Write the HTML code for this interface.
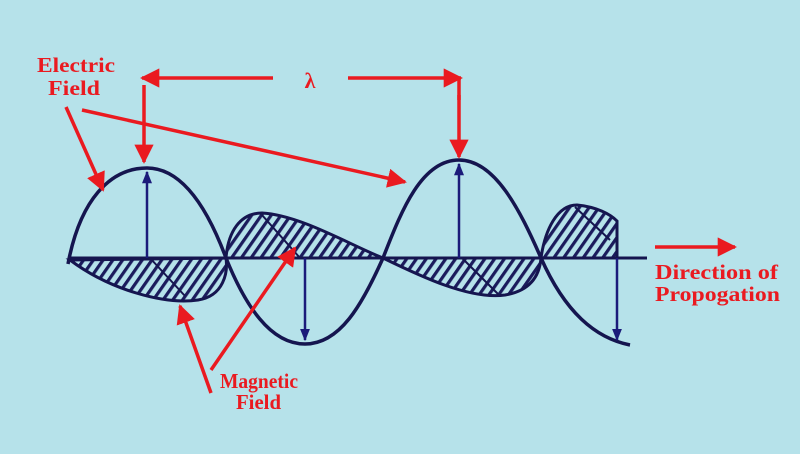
<!DOCTYPE html>
<html><head><meta charset="utf-8"><style>
html,body{margin:0;padding:0;background:#b6e2ea;}
svg{display:block}
</style></head><body>
<svg width="800" height="454" viewBox="0 0 800 454" xmlns="http://www.w3.org/2000/svg">
<defs>
<pattern id="h" width="8" height="8" patternUnits="userSpaceOnUse" patternTransform="rotate(35)">
<rect x="0" y="0" width="3.2" height="8" fill="#1b1b5c"/>
</pattern>
<marker id="ar" viewBox="0 0 10 10" refX="9" refY="5" markerWidth="5.5" markerHeight="5.5" orient="auto" markerUnits="strokeWidth"><path d="M0,0 L10,5 L0,10 z" fill="#ea1a20"/></marker>
<marker id="ab" viewBox="0 0 10 10" refX="9" refY="5" markerWidth="5" markerHeight="6" orient="auto" markerUnits="strokeWidth"><path d="M0,1 L10,5 L0,9 z" fill="#1b1b7a"/></marker>
</defs>
<rect width="800" height="454" fill="#b6e2ea"/>
<g stroke="#15154f" stroke-width="3" fill="url(#h)">
<path d="M70,260 C110,290 165,305 198,300 C224,296 228,272 226,258 Z"/>
<path d="M226,258 C228,232 240,213 262,213 C300,215 350,245 383,258 Z"/>
<path d="M383,258 C420,276 470,300 505,295 C535,290 540,270 541,258 Z"/>
<path d="M541,258 C545,230 557,205 577,205 C597,207 610,214 617,221 L617,258 Z"/>
</g>
<g stroke="#15154f" stroke-width="2">
<line x1="150" y1="258" x2="185" y2="296"/>
<line x1="262" y1="215" x2="300" y2="258"/>
<line x1="462" y1="258" x2="498" y2="294"/>
<line x1="575" y1="207" x2="610" y2="240"/>
</g>
<line x1="68" y1="258" x2="647" y2="258" stroke="#15154f" stroke-width="3"/>
<path d="M68,264 C80,200 110,168 147,168 C185,168 210,215 226,258 C245,305 270,344 305,344 C340,344 362,305 383,258 C400,215 420,160 459,160 C495,160 520,210 541,258 C565,312 595,338 630,345" fill="none" stroke="#15154f" stroke-width="3.5"/>
<g stroke="#1b1b7a" stroke-width="2.5" marker-end="url(#ab)">
<line x1="147" y1="258" x2="147" y2="172"/>
<line x1="305" y1="258" x2="305" y2="340"/>
<line x1="459" y1="258" x2="459" y2="164"/>
<line x1="617" y1="258" x2="617" y2="340"/>
</g>
<g stroke="#ea1a20" stroke-width="3.5" fill="none" marker-end="url(#ar)">
<line x1="66" y1="107" x2="103" y2="190"/>
<line x1="82" y1="110" x2="405" y2="182"/>
<line x1="273" y1="78" x2="142" y2="78"/>
<line x1="348" y1="78" x2="461" y2="78"/>
<line x1="144" y1="85" x2="144" y2="162"/>
<line x1="211" y1="393" x2="180" y2="306"/>
<line x1="211" y1="370" x2="295" y2="248"/>
<line x1="655" y1="247" x2="735" y2="247"/>
</g>
<line x1="459" y1="78" x2="459" y2="100" stroke="#ea1a20" stroke-width="3.5"/>
<line x1="459" y1="95" x2="459" y2="157" stroke="#ea1a20" stroke-width="3.5" marker-end="url(#ar)"/>
<g font-family="'Liberation Serif', serif" font-weight="bold" fill="#ea1a20">
<text x="310" y="88" font-size="22" text-anchor="middle">λ</text>
<text x="37" y="72" font-size="21" textLength="78" lengthAdjust="spacingAndGlyphs">Electric</text>
<text x="48" y="95" font-size="21" textLength="52" lengthAdjust="spacingAndGlyphs">Field</text>
<text x="220" y="388" font-size="21" textLength="78" lengthAdjust="spacingAndGlyphs">Magnetic</text>
<text x="236" y="409" font-size="21" textLength="45" lengthAdjust="spacingAndGlyphs">Field</text>
<text x="655" y="279" font-size="21" textLength="123" lengthAdjust="spacingAndGlyphs">Direction of</text>
<text x="655" y="301" font-size="21" textLength="125" lengthAdjust="spacingAndGlyphs">Propogation</text>
</g>
</svg>
</body></html>
